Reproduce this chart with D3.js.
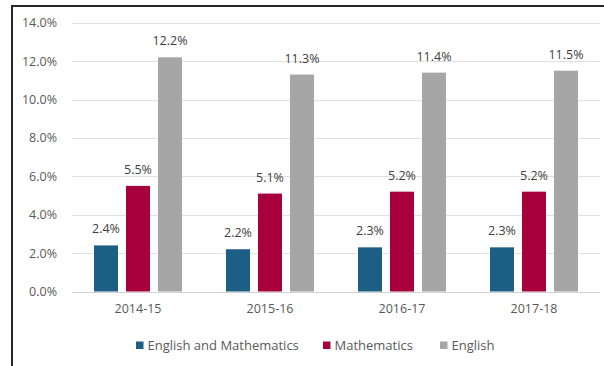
<!DOCTYPE html>
<html>
<head>
<meta charset="utf-8">
<script src="https://cdn.jsdelivr.net/npm/d3@7"></script>
<style>
  html, body { margin: 0; padding: 0; background: #fff; }
  svg { display: block; }
  text { font-family: "Open Sans", "Liberation Sans", sans-serif; }
</style>
</head>
<body>
<svg id="chart" width="604" height="366"></svg>
<script>
// School years on the x axis
const years = ["2014-15", "2015-16", "2016-17", "2017-18"];
// Series names and their values (percent)
const seriesNames = ["English and Mathematics", "Mathematics", "English"];
const engAndMaths = [2.4, 2.2, 2.3, 2.3];
const maths = [5.5, 5.1, 5.2, 5.2];
const english = [12.2, 11.3, 11.4, 11.5];
const seriesColors = ["#1d5e85", "#a8003a", "#a6a6a6"];
// Y axis ticks
const yTicks = [0, 2, 4, 6, 8, 10, 12, 14];

const seriesValues = [engAndMaths, maths, english];
const FONT = 12.5;

const svg = d3.select("#chart");
const W = 604, H = 366;
const plot = { left: 72, right: 600, top: 22.7, bottom: 291.5 };

// frame lines along the top and left
svg.append("line").attr("x1", 12).attr("x2", W).attr("y1", 6).attr("y2", 6)
  .attr("stroke", "#262626").attr("stroke-width", 2);
svg.append("line").attr("x1", 12).attr("x2", 12).attr("y1", 5).attr("y2", H)
  .attr("stroke", "#262626").attr("stroke-width", 2);

const x = d3.scaleBand().domain(years).range([plot.left, plot.right]).paddingInner(0).paddingOuter(0);
const y = d3.scaleLinear().domain([0, 14]).range([plot.bottom, plot.top]);
const xInner = d3.scaleBand().domain(seriesNames)
  .range([x.bandwidth() / 2 - 44, x.bandwidth() / 2 + 44]).paddingInner(0.25).paddingOuter(0);

// gridlines
svg.append("g").selectAll("line").data(yTicks).join("line")
  .attr("x1", plot.left).attr("x2", plot.right)
  .attr("y1", d => Math.round(y(d)) + 0.5).attr("y2", d => Math.round(y(d)) + 0.5)
  .attr("stroke", d => d === 0 ? "#d0d0d0" : "#e0e0e0").attr("stroke-width", 1);

// y axis labels
const yAxis = d3.axisLeft(y).tickValues(yTicks).tickSize(0).tickPadding(0)
  .tickFormat(d => d.toFixed(1) + "%");
const gy = svg.append("g").attr("transform", `translate(57,0)`).call(yAxis);
gy.select(".domain").remove();
gy.selectAll("text").attr("fill", "#595959").attr("font-size", FONT)
  .attr("font-family", "Open Sans, sans-serif");

// x axis labels
const xAxis = d3.axisBottom(x).tickSize(0).tickPadding(0);
const gx = svg.append("g").attr("transform", `translate(0,304)`).call(xAxis);
gx.select(".domain").remove();
gx.selectAll("text").attr("fill", "#595959").attr("font-size", FONT)
  .attr("font-family", "Open Sans, sans-serif");

// bars grouped by year
const groups = svg.append("g").selectAll("g").data(years).join("g")
  .attr("transform", d => `translate(${x(d)},0)`);

groups.each(function (yr, i) {
  const g = d3.select(this);
  seriesNames.forEach((s, k) => {
    const v = seriesValues[k][i];
    g.append("rect")
      .attr("x", xInner(s)).attr("width", xInner.bandwidth())
      .attr("y", y(v)).attr("height", y(0) - y(v))
      .attr("fill", seriesColors[k]);
    g.append("text")
      .attr("x", xInner(s) + xInner.bandwidth() / 2)
      .attr("y", y(v) - 12)
      .attr("text-anchor", "middle")
      .attr("font-size", FONT).attr("fill", "#404040")
      .text(v.toFixed(1) + "%");
  });
});

// legend
const legendItems = [
  { name: seriesNames[0], color: seriesColors[0], x: 136 },
  { name: seriesNames[1], color: seriesColors[1], x: 323 },
  { name: seriesNames[2], color: seriesColors[2], x: 440 }
];
const lg = svg.append("g").selectAll("g").data(legendItems).join("g")
  .attr("transform", d => `translate(${d.x},340)`);
lg.append("rect").attr("width", 7.5).attr("height", 7.5).attr("y", 1.5).attr("fill", d => d.color);
lg.append("text").attr("x", 11.5).attr("y", 10).attr("font-size", 13).attr("fill", "#595959")
  .text(d => d.name);
</script>
</body>
</html>
